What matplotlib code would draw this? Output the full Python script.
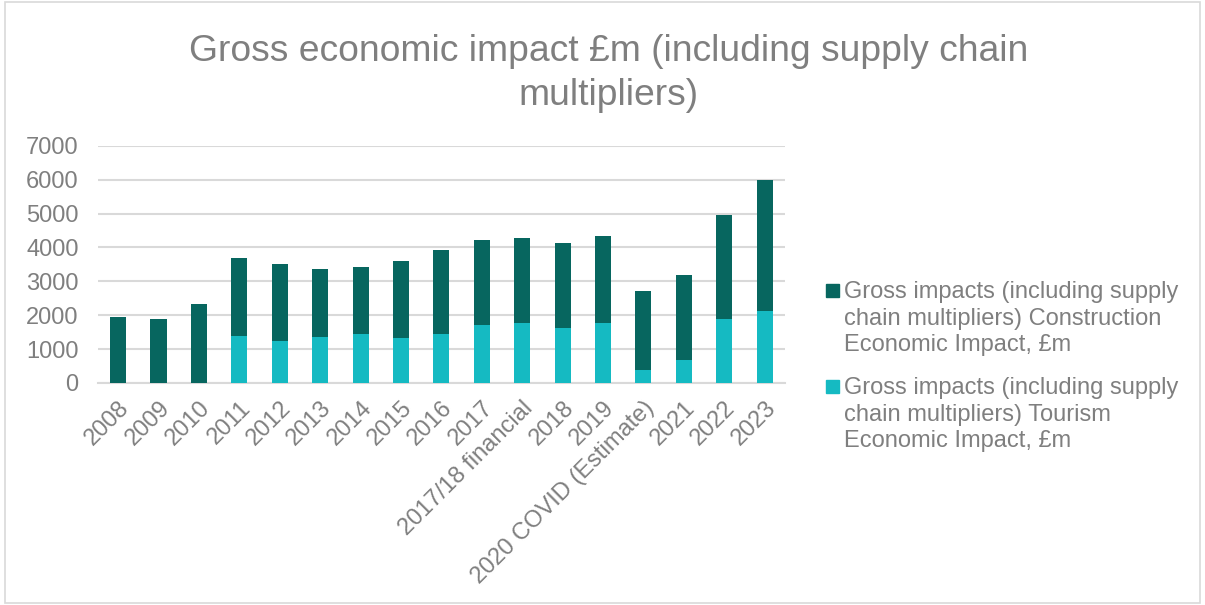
import matplotlib.pyplot as plt

# Categories along the x axis
years = ['2008', '2009', '2010', '2011', '2012', '2013', '2014', '2015', '2016',
         '2017', '2017/18 financial', '2018', '2019', '2020 COVID (Estimate)',
         '2021', '2022', '2023']

# Tourism impact (bottom segment), £m
tourism = [0, 0, 0, 1380, 1235, 1350, 1440, 1330, 1440,
           1705, 1775, 1620, 1775, 375, 670, 1885, 2130]

# Construction impact (top segment), £m
construction = [1955, 1890, 2320, 2320, 2270, 2015, 1990, 2270, 2480,
                2515, 2505, 2515, 2565, 2340, 2525, 3070, 3860]

series_names = [
    'Gross impacts (including supply\nchain multipliers) Construction\nEconomic Impact, £m',
    'Gross impacts (including supply\nchain multipliers) Tourism\nEconomic Impact, £m',
]

dark = '#07665F'
light = '#15BAC2'
grey = '#7F7F7F'

plt.rcParams['font.family'] = ['Liberation Sans', 'DejaVu Sans']

fig = plt.figure(figsize=(12.05, 6.05), dpi=100)
ax = fig.add_axes([0.0813, 0.367, 0.57, 0.392])

x = range(len(years))
ax.bar(x, tourism, width=0.4, color=light, zorder=3)
ax.bar(x, construction, width=0.4, bottom=tourism, color=dark, zorder=3)

ax.set_ylim(0, 7000)
ax.set_xlim(-0.5, len(years) - 0.5)
ax.set_yticks(range(0, 7001, 1000))
ax.yaxis.grid(True, color='#D9D9D9', linewidth=1.5, zorder=0)
for s in ['top', 'right', 'left']:
    ax.spines[s].set_visible(False)
ax.spines['bottom'].set_color('#D9D9D9')
ax.spines['bottom'].set_linewidth(1.5)
ax.tick_params(length=0, colors=grey, labelsize=17)
ax.tick_params(axis='y', pad=14)
ax.tick_params(axis='x', pad=10)
ax.set_xticks(list(x))
ax.set_xticklabels(years, rotation=45, ha='right', rotation_mode='anchor')

fig.text(0.505, 0.943, 'Gross economic impact £m (including supply chain\nmultipliers)',
         ha='center', va='top', fontsize=26.8, color=grey, linespacing=1.3)

# legend: square swatch level with the first line of each entry
for i, (name, col) in enumerate(zip(series_names, [dark, light])):
    top = 1 - (281 + i * 96) / 605
    fig.patches.append(plt.Rectangle((826 / 1205, top - 16 / 605), 12.5 / 1205, 12.5 / 605,
                                     transform=fig.transFigure, color=col))
    fig.text(844 / 1205, top, name, ha='left', va='top', fontsize=17,
             color=grey, linespacing=1.27)

# light border round the whole chart
fig.patches.append(plt.Rectangle((0.004, 0.004), 0.992, 0.992, transform=fig.transFigure,
                                 fill=False, edgecolor='#D9D9D9', linewidth=1.2))

fig.savefig('out.png', dpi=100)
